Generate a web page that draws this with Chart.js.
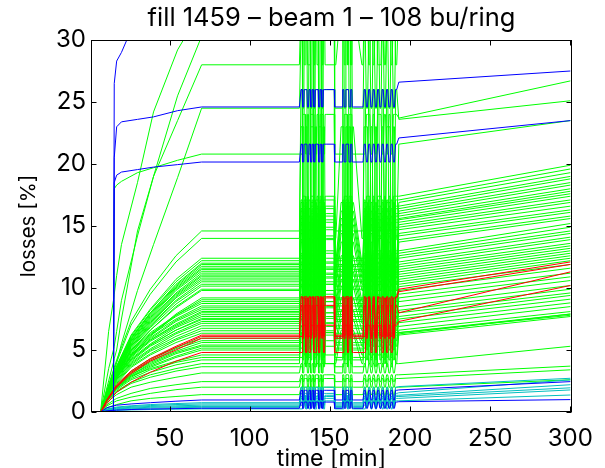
<!DOCTYPE html>
<html><head><meta charset="utf-8">
<script src="https://cdn.jsdelivr.net/npm/chart.js@4.4.0/dist/chart.umd.min.js"></script>
<style>html,body{margin:0;padding:0;background:#fff;}#wrap{width:605px;height:468px;}</style>
</head><body><div id="wrap"><canvas id="c" width="605" height="468"></canvas></div>
<script>
const titleText = 'fill 1459 – beam 1 – 108 bu/ring';
const xLabel = 'time [min]';
const yLabel = 'losses [%]';
const xTicks = [50, 100, 150, 200, 250, 300];
const yTicks = [0, 5, 10, 15, 20, 25, 30];

// shared time stamps [min]
const riseTimes = [1, 7, 11, 17, 26, 38, 54, 70];
const earlyTimes = [1, 7, 12, 15, 15.5, 17, 20, 30, 40, 55, 70];
const plateauEnd = 131;
const noiseTimes = [132,133,134,135,136,137,138,139,140,141,142,143,144,145,146,147,
  152,153,157,158,159,160,161,162,163,164,170,
  171.4,172.8,174.2,175.6,177,178.4,179.8,181.2,182.6,184,185.4,186.8,188.2,189.6,191];
const noiseHold = 0.7;
// three glitch patterns (1 = jumped level, 0 = previous level)
const noiseStateA = [1,0,1,1,0,1,0,1,0,1,1,0,1,0,1,1,
  1,0,0,1,0,1,1,0,1,0,0,
  1,0,1,0,1,0,1,0,1,0,1,0,1,0,1];
const noiseStateB = [0,1,1,0,1,0,1,1,0,0,1,0,1,1,0,1,
  1,0,0,0,1,1,0,1,1,0,0,
  0,1,1,0,1,0,1,1,0,1,0,1,0,1,1];
const noiseStateC = [1,1,0,1,0,0,1,1,0,1,0,1,1,0,1,0,
  0,0,1,1,0,1,0,1,0,1,0,
  1,1,0,1,0,1,0,0,1,0,1,1,0,1,0];
const noisePatterns = [noiseStateA, noiseStateB, noiseStateC];
const afterTime = 193;
const endTime = 300;

// blue lines with a step at ~15 min (values at earlyTimes)
const blueStepRise = [
  [0,0,0,0,26.5,28.3,29.0,32,33,34,35],
  [0,0,0,0,20.5,23.0,23.4,23.6,23.8,24.3,24.6],
  [0,0,0,0,18.5,19.1,19.35,19.55,19.75,19.95,20.16]
];
const blueStepHigh  = [36, 26.0, 21.6];
const blueStepAfter = [36, 26.6, 22.1];
const blueStepEnd   = [38, 27.5, 23.5];
const blueStepPattern = [0, 0, 0];

// blue lines near zero (values at riseTimes)
const blueLowRise = [
  [0,0,0.35,0.55,0.65,0.75,0.87,0.97],
  [0,0,0.1,0.15,0.2,0.24,0.27,0.3]
];
const blueLowHigh  = [1.75, 0.8];
const blueLowAfter = [1.78, 0.83];
const blueLowEnd   = [2.45, 1.0];
const blueLowPattern = [0, 0];

// red lines
const redRise = [
  [0,0,1.0,2.2,3.3,4.3,5.3,6.2],
  [0,0,1.0,2.1,3.2,4.2,5.2,6.1],
  [0,0,0.9,2.0,3.1,4.1,5.0,5.95],
  [0,0,0.7,1.6,2.4,3.2,4.1,4.8]
];
const redHigh  = [9.3, 9.2, 8.6, 7.0];
const redAfter = [9.9, 9.7, 8.0, 7.3];
const redEnd   = [12.1, 11.9, 11.3, 10.2];
const redPattern = [0, 1, 0, 1];

// cyan lines
const cyanRise = [
  [0,0,0.25,0.4,0.5,0.6,0.68,0.75],
  [0,0,0.22,0.35,0.45,0.52,0.6,0.65],
  [0,0,0.2,0.3,0.38,0.45,0.5,0.55],
  [0,0,0.15,0.25,0.32,0.38,0.42,0.45],
  [0,0,0.12,0.2,0.26,0.31,0.35,0.38],
  [0,0,0.08,0.13,0.17,0.2,0.23,0.25]
];
const cyanHigh  = [2.0, 1.5, 1.35, 1.25, 1.1, 0.9];
const cyanAfter = [2.05, 1.55, 1.35, 1.25, 1.1, 0.9];
const cyanEnd   = [2.72, 2.59, 2.2, 1.95, 1.78, 1.37];
const cyanPattern = [0, 0, 1, 0, 0, 1];

// green lines with steep early rise (values at earlyTimes)
const greenSteepRise = [
  [0,0,0,0,18.0,18.3,18.6,19.3,19.7,20.3,20.8],
  [0,0,2,3.2,3.4,4.0,5.5,9.8,13.5,18.9,24.5],
  [0,0,2.5,4,4.3,5,7.5,14.6,19,23.5,28],
  [0,0,6.5,9,9.5,11,13.5,18.5,24.2,29.2,32.5],
  [0,0,3.5,5,5.3,6.5,9,14.2,19,25.5,30.3]
];
const greenSteepHigh  = [24, 30.5, 33, 35, 33];
const greenSteepAfter = [23.7, 31, 33, 35, 33];
const greenSteepEnd   = [26.7, 34, 36, 38, 36];
const greenSteepPattern = [1, 0, 2, 1, 2];

// main green bundle (values at riseTimes)
const greenRise = [
  [0,0,1.8,4.2,7.3,9.9,12.6,14.6],
  [0,0,1.7,4.0,7.0,9.5,12.1,14.0],
  [0,0,1.6,3.7,6.2,8.3,10.7,12.4],
  [0,0,1.6,3.7,6.1,8.2,10.5,12.2],
  [0,0,1.6,3.6,6.0,8.0,10.3,12.0],
  [0,0,1.5,3.6,5.9,8.0,10.2,11.9],
  [0,0,1.5,3.5,5.9,7.9,10.1,11.75],
  [0,0,1.5,3.5,5.8,7.8,10.0,11.6],
  [0,0,1.5,3.4,5.7,7.7,9.9,11.5],
  [0,0,1.5,3.4,5.7,7.6,9.8,11.35],
  [0,0,1.5,3.4,5.6,7.5,9.6,11.2],
  [0,0,1.4,3.3,5.5,7.4,9.5,11.05],
  [0,0,1.4,3.3,5.5,7.3,9.4,10.95],
  [0,0,1.4,3.2,5.4,7.2,9.3,10.8],
  [0,0,1.4,3.2,5.3,7.1,9.2,10.65],
  [0,0,1.4,3.2,5.3,7.0,9.0,10.5],
  [0,0,1.3,3.1,5.2,6.9,8.9,10.3],
  [0,0,1.3,3.0,5.1,6.8,8.7,10.15],
  [0,0,1.3,3.0,5.0,6.6,8.5,9.9],
  [0,0,1.3,2.9,4.9,6.6,8.4,9.8],
  [0,0,1.2,2.8,4.6,6.2,7.9,9.2],
  [0,0,1.2,2.7,4.5,6.1,7.8,9.05],
  [0,0,1.6,3.3,5.0,6.4,7.8,8.9],
  [0,0,1.6,3.2,4.9,6.3,7.7,8.75],
  [0,0,1.5,3.2,4.8,6.2,7.5,8.55],
  [0,0,1.5,3.1,4.7,6.0,7.4,8.4],
  [0,0,1.5,3.1,4.6,5.9,7.3,8.25],
  [0,0,1.5,3.0,4.5,5.8,7.1,8.1],
  [0,0,1.4,3.0,4.5,5.8,7.0,8.0],
  [0,0,1.4,2.9,4.4,5.7,6.9,7.85],
  [0,0,1.4,2.8,4.3,5.5,6.8,7.7],
  [0,0,1.4,2.8,4.2,5.4,6.6,7.55],
  [0,0,1.3,2.8,4.2,5.4,6.6,7.45],
  [0,0,1.3,2.7,4.1,5.3,6.4,7.3],
  [0,0,1.3,2.6,4.0,5.1,6.3,7.15],
  [0,0,1.3,2.6,3.9,5.0,6.1,6.95],
  [0,0,1.2,2.5,3.8,4.9,5.9,6.75],
  [0,0,1.2,2.4,3.7,4.7,5.8,6.55],
  [0,0,1.1,2.3,3.6,4.6,5.6,6.35],
  [0,0,1.1,2.2,3.3,4.3,5.2,5.95],
  [0,0,1.0,2.1,3.2,4.1,5.1,5.75],
  [0,0,1.0,2.1,3.1,4.0,4.9,5.6],
  [0,0,1.0,2.0,3.0,3.9,4.8,5.4],
  [0,0,1.0,2.0,3.0,3.8,4.7,5.3],
  [0,0,0.9,1.9,2.9,3.7,4.5,5.15],
  [0,0,0.9,1.9,2.8,3.6,4.4,5.0],
  [0,0,1.1,2.0,2.9,3.5,4.1,4.6],
  [0,0,1.1,1.9,2.7,3.4,4.0,4.4],
  [0,0,1.0,1.8,2.6,3.2,3.8,4.2],
  [0,0,0.9,1.7,2.4,3.0,3.5,3.9],
  [0,0,0.9,1.6,2.3,2.8,3.3,3.65],
  [0,0,0.8,1.4,2.0,2.4,2.8,3.15],
  [0,0,0.6,1.1,1.5,1.9,2.2,2.45],
  [0,0,0.5,0.9,1.2,1.5,1.8,2.0],
  [0,0,0.35,0.6,0.9,1.1,1.25,1.4]
];
const greenHigh = [26,23,17.4,17.1,16.9,16.6,16.4,16.2,16.0,15.8,15.6,15.5,15.3,15.1,14.9,14.7,14.4,14.2,13.9,13.7,
  13.0,12.8,12.6,12.4,12.1,11.9,11.7,11.5,11.3,11.1,10.9,10.7,10.5,10.3,10.1,9.8,9.5,9.2,8.9,8.5,8.2,8.0,7.7,7.5,7.2,6.9,
  6.6,6.4,6.4,6.3,6.2,3.9,3.0,2.7,2.0];
const greenAfter = [23.6,21.6,17.4,17.1,16.9,16.6,16.4,16.2,16.0,15.8,15.6,15.5,15.3,15.1,14.9,14.7,14.4,14.2,13.9,13.7,
  13.0,12.8,12.6,12.4,12.1,11.9,11.7,11.5,11.3,11.1,10.9,10.7,10.5,10.3,10.1,9.8,9.5,9.2,8.9,8.5,8.2,8.0,7.7,7.5,7.2,6.9,
  6.6,6.4,6.4,6.3,6.2,3.9,3.0,2.7,2.0];
const greenEnd = [25.1,23.5,19.9,19.6,19.3,19.0,18.8,18.5,18.3,18.0,17.8,17.6,17.4,17.1,16.9,16.6,16.3,16.1,15.8,15.6,
  15.2,14.9,14.6,14.4,14.1,13.9,13.6,13.4,13.2,13.0,12.8,12.6,12.4,12.2,11.9,11.6,11.2,10.9,10.6,10.2,9.9,9.6,9.4,9.1,8.8,8.5,
  8.1,7.9,7.8,7.9,7.7,5.3,3.7,3.4,2.6];
const greenPattern = [0,2,1,0,2,1,0,2,1,0,2,1,0,2,1,0,2,1,0,2,1,0,2,1,0,2,1,0,
  2,1,0,2,1,0,2,1,0,2,1,0,2,1,0,2,1,0,2,1,0,2,1,0,0,0,0];

const colors = { blue: '#0000ff', red: '#ff0000', cyan: '#00bfbf', green: '#00ff00' };

function buildLine(times, rise, high, after, end, pattern) {
  const P = rise[rise.length - 1];
  const state = noisePatterns[pattern];
  const pts = times.map((t, i) => ({ x: t, y: rise[i] }));
  pts.push({ x: plateauEnd, y: P });
  noiseTimes.forEach((t, i) => {
    const v = state[i] ? high : P;
    pts.push({ x: t, y: v });
    pts.push({ x: t + noiseHold, y: v });
  });
  pts.push({ x: afterTime, y: after });
  pts.push({ x: endTime, y: end });
  return pts;
}
function group(times, rise, high, after, end, pattern, color) {
  return rise.map((r, i) => ({
    data: buildLine(times, r, high[i], after[i], end[i], pattern[i]),
    borderColor: color, borderWidth: 1, pointRadius: 0, tension: 0, fill: false
  }));
}
const datasets = [].concat(
  group(earlyTimes, blueStepRise, blueStepHigh, blueStepAfter, blueStepEnd, blueStepPattern, colors.blue),
  group(riseTimes, blueLowRise, blueLowHigh, blueLowAfter, blueLowEnd, blueLowPattern, colors.blue),
  group(riseTimes, redRise, redHigh, redAfter, redEnd, redPattern, colors.red),
  group(riseTimes, cyanRise, cyanHigh, cyanAfter, cyanEnd, cyanPattern, colors.cyan),
  group(earlyTimes, greenSteepRise, greenSteepHigh, greenSteepAfter, greenSteepEnd, greenSteepPattern, colors.green),
  group(riseTimes, greenRise, greenHigh, greenAfter, greenEnd, greenPattern, colors.green)
);

const FONT = 'Inter, Liberation Sans, Arial, sans-serif';
const boxPlugin = {
  id: 'box',
  afterDatasetsDraw(chart) {
    const { ctx, chartArea: a, scales: { x, y } } = chart;
    ctx.save();
    ctx.strokeStyle = '#000'; ctx.lineWidth = 1;
    const L = Math.round(a.left) + 0.5, R = Math.round(a.right) - 0.5;
    const T = Math.round(a.top) + 0.5, B = Math.round(a.bottom) - 0.5;
    ctx.strokeRect(L, T, R - L, B - T);
    ctx.beginPath();
    x.ticks.forEach(t => {
      const p = Math.round(x.getPixelForValue(t.value)) + 0.5;
      ctx.moveTo(p, B); ctx.lineTo(p, B - 5); ctx.moveTo(p, T); ctx.lineTo(p, T + 5);
    });
    y.ticks.forEach(t => {
      const p = Math.round(y.getPixelForValue(t.value)) + 0.5;
      ctx.moveTo(L, p); ctx.lineTo(L + 5, p); ctx.moveTo(R, p); ctx.lineTo(R - 5, p);
    });
    ctx.stroke();
    ctx.restore();
  }
};

new Chart(document.getElementById('c'), {
  type: 'line',
  data: { datasets },
  options: {
    responsive: false, animation: false, devicePixelRatio: 1,
    parsing: false, normalized: true,
    layout: { padding: { left: 0, right: 22, top: 0, bottom: 0 } },
    plugins: {
      legend: { display: false }, tooltip: { enabled: false },
      title: { display: true, fullSize: false, text: titleText, color: '#000',
        font: { family: FONT, size: 25.5, weight: 'normal', lineHeight: 1.2 },
        padding: { top: 3, bottom: 6.4 } }
    },
    scales: {
      x: {
        type: 'linear', min: 1, max: 301,
        grid: { display: false, drawTicks: false }, border: { display: false },
        afterBuildTicks: s => { s.ticks = xTicks.map(v => ({ value: v })); },
        afterFit: s => { s.height = 56; },
        ticks: { color: '#000', font: { family: FONT, size: 24 }, padding: 12, maxRotation: 0, autoSkip: false },
        title: { display: true, text: xLabel, color: '#000', font: { family: FONT, size: 23, lineHeight: 0.8 }, padding: { top: 0, bottom: 0 } }
      },
      y: {
        type: 'linear', min: 0, max: 30,
        grid: { display: false, drawTicks: false }, border: { display: false },
        afterBuildTicks: s => { s.ticks = yTicks.map(v => ({ value: v })); },
        afterFit: s => { s.width = 91; },
        ticks: { color: '#000', font: { family: FONT, size: 24 }, padding: 5, autoSkip: false },
        title: { display: true, text: yLabel, color: '#000', font: { family: FONT, size: 20.5, lineHeight: 1.2 }, padding: { top: 16.5, bottom: 0 } }
      }
    }
  },
  plugins: [boxPlugin]
});
</script></body></html>
